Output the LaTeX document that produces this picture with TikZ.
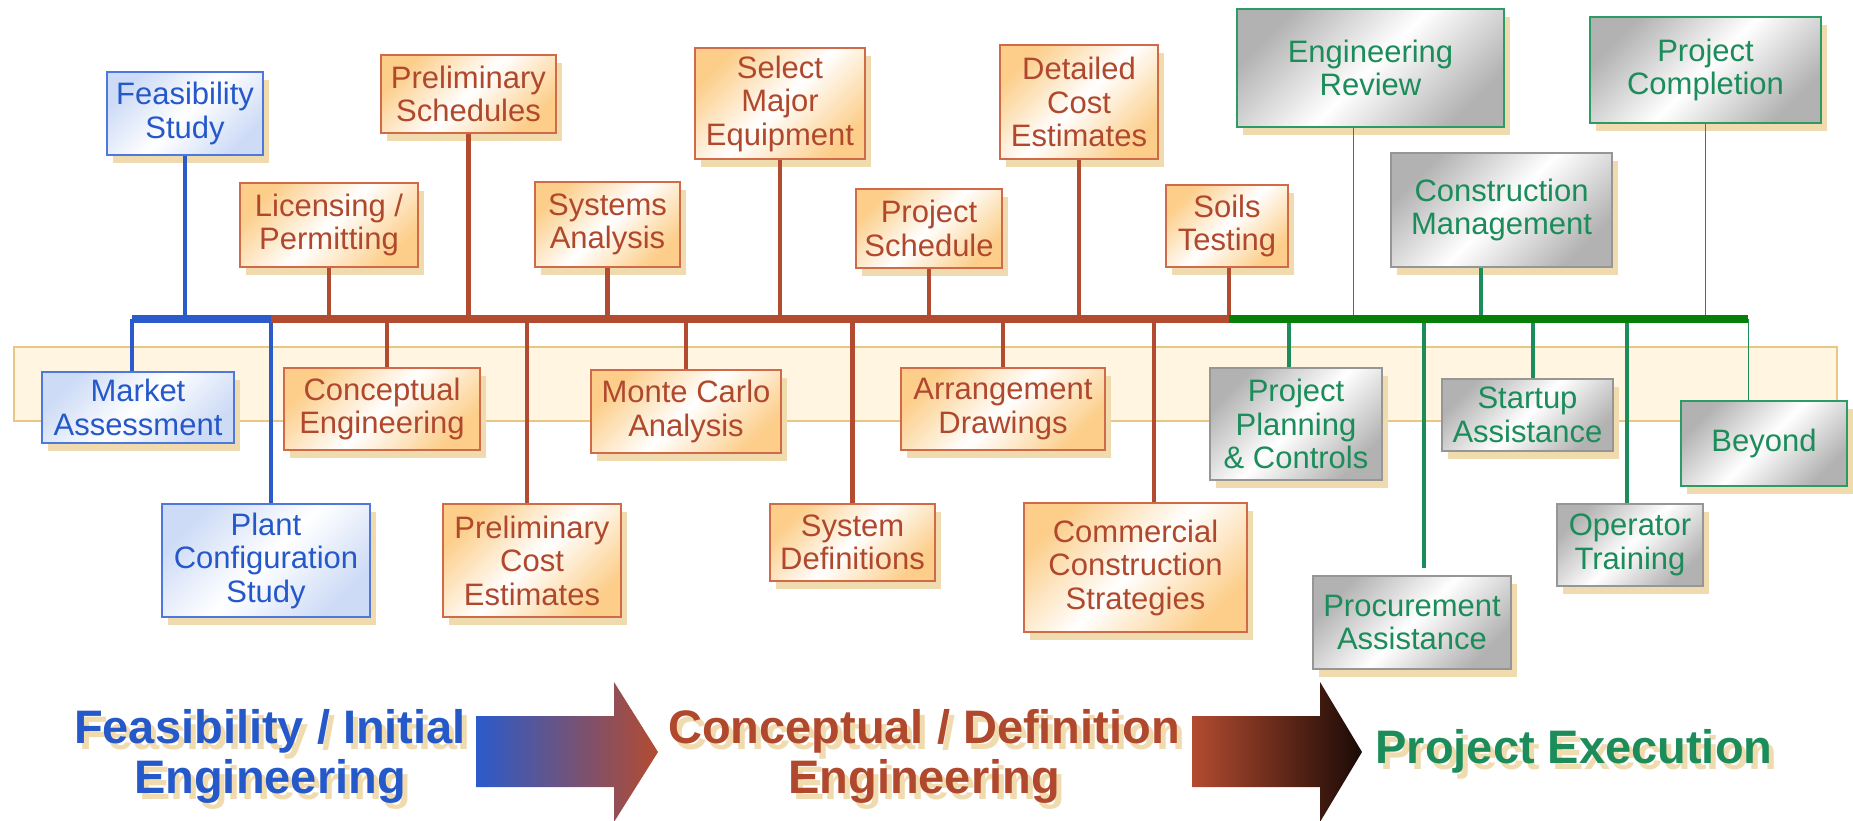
\documentclass[tikz,border=0pt]{standalone}
\usepackage{fontspec}
\setmainfont{Liberation Sans}
\usetikzlibrary{shadows, calc}

\definecolor{spineblue}{RGB}{43,91,203}
\definecolor{bluetext}{RGB}{37,88,201}
\definecolor{bluefill}{RGB}{205,219,246}
\definecolor{blueedge}{RGB}{78,120,220}
\definecolor{rust}{RGB}{179,75,48}
\definecolor{rusttext}{RGB}{176,72,46}
\definecolor{peach}{RGB}{252,206,138}
\definecolor{peachedge}{RGB}{208,106,72}
\definecolor{spinegreen}{RGB}{6,127,6}
\definecolor{tealgreen}{RGB}{27,140,90}
\definecolor{greyfill}{RGB}{178,178,178}
\definecolor{greyedge}{RGB}{150,150,150}
\definecolor{greenedge}{RGB}{46,154,102}
\definecolor{shadowtan}{RGB}{240,219,175}
\definecolor{bandfill}{RGB}{255,245,225}
\definecolor{bandedge}{RGB}{233,198,133}
\definecolor{darkend}{RGB}{26,10,5}

\begin{document}
\begin{tikzpicture}[
            x = 1pt, y = -1pt, % pixel grid, y runs down
            font = \fontsize{31}{33.5}\selectfont, % box text
            line cap = butt
        ]

        \tikzstyle{bluebox}=[
            draw = blueedge, line width = 1.6pt, text = bluetext,
            top color = bluefill, bottom color = bluefill, middle color = white,
            shading angle = 45,
            align = center, inner sep = 0pt,
            drop shadow = {shadow xshift = 5.5pt, shadow yshift = -8pt, fill = shadowtan, opacity = 1}
        ]
        \tikzstyle{orangebox}=[
            draw = peachedge, line width = 1.6pt, text = rusttext,
            top color = peach, bottom color = peach, middle color = white,
            shading angle = 45,
            align = center, inner sep = 0pt,
            drop shadow = {shadow xshift = 5.5pt, shadow yshift = -8pt, fill = shadowtan, opacity = 1}
        ]
        \tikzstyle{greybox}=[
            draw = greyedge, line width = 1.6pt, text = tealgreen,
            top color = greyfill, bottom color = greyfill, middle color = white,
            shading angle = 45,
            align = center, inner sep = 0pt,
            drop shadow = {shadow xshift = 5.5pt, shadow yshift = -8pt, fill = shadowtan, opacity = 1}
        ]
        \tikzstyle{greenbox}=[greybox, draw = greenedge]
        \tikzstyle{blueline}=[draw = spineblue, line width = 4.5pt]
        \tikzstyle{rustline}=[draw = rust, line width = 4.5pt]
        \tikzstyle{greenline}=[draw = tealgreen, line width = 4.5pt]
        \tikzstyle{thinline}=[draw = tealgreen, line width = 1pt]
        \tikzstyle{spine}=[line width = 7.5pt]
        \tikzstyle{title}=[
            font = \fontsize{47}{50}\selectfont\bfseries,
            align = center, inner sep = 0pt
        ]

        \useasboundingbox (0,0) rectangle (1853,820);

        % band behind the lower boxes
        \draw[draw = bandedge, fill = bandfill, line width = 2pt] (14,347) rectangle (1837,421);

        % feasibility / initial engineering
        \node[bluebox, minimum width = 156pt, minimum height = 83pt] (feas) at (185,113.5) {Feasibility\\Study};
        \node[bluebox, minimum width = 192pt, minimum height = 71pt] (market) at (138,407.5) {Market\\Assessment};
        \node[bluebox, minimum width = 208pt, minimum height = 113pt] (plant) at (266,560.5) {Plant\\Configuration\\Study};

        % conceptual / definition engineering
        \node[orangebox, minimum width = 178pt, minimum height = 84pt] (lic) at (329,225) {Licensing /\\Permitting};
        \node[orangebox, minimum width = 175pt, minimum height = 78pt] (psched) at (468.5,94) {Preliminary\\Schedules};
        \node[orangebox, minimum width = 145pt, minimum height = 85pt] (sysan) at (607.5,224.5) {Systems\\Analysis};
        \node[orangebox, minimum width = 170pt, minimum height = 111pt] (sme) at (780,103.5) {Select\\Major\\Equipment};
        \node[orangebox, minimum width = 146pt, minimum height = 79pt] (psch) at (929,228.5) {Project\\Schedule};
        \node[orangebox, minimum width = 158pt, minimum height = 114pt] (dce) at (1079,102) {Detailed\\Cost\\Estimates};
        \node[orangebox, minimum width = 122pt, minimum height = 82pt] (soils) at (1227,226) {Soils\\Testing};
        \node[orangebox, minimum width = 196pt, minimum height = 82pt] (concept) at (382,409) {Conceptual\\Engineering};
        \node[orangebox, minimum width = 178pt, minimum height = 113pt] (pce) at (532,560.5) {Preliminary\\Cost\\Estimates};
        \node[orangebox, minimum width = 190pt, minimum height = 83pt] (monte) at (686,411.5) {Monte Carlo\\Analysis};
        \node[orangebox, minimum width = 165pt, minimum height = 77pt] (sysdef) at (852.5,542.5) {System\\Definitions};
        \node[orangebox, minimum width = 204pt, minimum height = 82pt] (arr) at (1003,409) {Arrangement\\Drawings};
        \node[orangebox, minimum width = 223pt, minimum height = 129pt] (ccs) at (1135.5,567.5) {Commercial\\Construction\\Strategies};

        % project execution
        \node[greenbox, minimum width = 267pt, minimum height = 118pt] (engrev) at (1370.5,68) {Engineering\\Review};
        \node[greenbox, minimum width = 231pt, minimum height = 106pt] (pcomp) at (1705.5,70) {Project\\Completion};
        \node[greybox, minimum width = 221pt, minimum height = 114pt] (cm) at (1501.5,210) {Construction\\Management};
        \node[greybox, minimum width = 172pt, minimum height = 112pt] (ppc) at (1296,424) {Project\\Planning\\\& Controls};
        \node[greybox, minimum width = 198pt, minimum height = 93pt] (proc) at (1412,622.5) {Procurement\\Assistance};
        \node[greybox, minimum width = 171pt, minimum height = 72pt] (startup) at (1527.5,415) {Startup\\Assistance};
        \node[greybox, minimum width = 146pt, minimum height = 82pt] (optr) at (1630,545) {Operator\\Training};
        \node[greenbox, minimum width = 166pt, minimum height = 85pt] (beyond) at (1764,443.5) {Beyond};

        % spine points
        \coordinate (bluestart) at (132,319);
        \coordinate (ruststart) at (271,319);
        \coordinate (greenstart) at (1229,319);
        \coordinate (greenend) at (1748,319);

        % blue drops
        \draw[blueline] (feas.south) -- (feas.south |- bluestart);
        \draw[blueline] (market.north -| bluestart) -- (bluestart);
        \draw[blueline] (plant.north -| ruststart) -- (ruststart);

        % rust drops
        \draw[rustline] (lic.south) -- (lic.south |- ruststart);
        \draw[rustline] (psched.south) -- (psched.south |- ruststart);
        \draw[rustline] (sysan.south) -- (sysan.south |- ruststart);
        \draw[rustline] (sme.south) -- (sme.south |- ruststart);
        \draw[rustline] (psch.south) -- (psch.south |- ruststart);
        \draw[rustline] (dce.south) -- (dce.south |- ruststart);
        \draw[rustline] (soils.south -| greenstart) -- (greenstart);
        \draw[rustline] ($(concept.north)+(5,0)$) -- ($(concept.north |- ruststart)+(5,0)$);
        \draw[rustline] ($(pce.north)+(-5,0)$) -- ($(pce.north |- ruststart)+(-5,0)$);
        \draw[rustline] (monte.north) -- (monte.north |- ruststart);
        \draw[rustline] (sysdef.north) -- (sysdef.north |- ruststart);
        \draw[rustline] (arr.north) -- (arr.north |- ruststart);
        \draw[rustline] ($(ccs.north)+(18.5,0)$) -- ($(ccs.north |- ruststart)+(18.5,0)$);

        % green drops
        \draw[thinline] ($(engrev.south)+(-17.5,0)$) -- ($(engrev.south |- greenstart)+(-17.5,0)$);
        \draw[thinline] (pcomp.south) -- (pcomp.south |- greenstart);
        \draw[greenline] ($(cm.south)+(-20.5,0)$) -- ($(cm.south |- greenstart)+(-20.5,0)$);
        \draw[greenline] ($(ppc.north)+(-7,0)$) -- ($(ppc.north |- greenstart)+(-7,0)$);
        \draw[greenline] ($(proc.north |- greenstart)+(12,0)$) -- ($(proc.north)+(12,-7)$);
        \draw[greenline] ($(startup.north)+(5.5,0)$) -- ($(startup.north |- greenstart)+(5.5,0)$);
        \draw[greenline] ($(optr.north)+(-3,0)$) -- ($(optr.north |- greenstart)+(-3,0)$);
        \draw[thinline] (beyond.north -| greenend) -- (greenend);

        % spine
        \draw[blueline, spine] (bluestart) -- (ruststart);
        \draw[rustline, spine] (ruststart) -- (greenstart);
        \draw[draw = spinegreen, spine] (greenstart) -- (greenend);

        % phase arrows
        \shade[left color = spineblue, right color = rust]
            (476,716) -- (614,716) -- (614,682) -- (658,752) -- (614,822) -- (614,787) -- (476,787) -- cycle;
        \shade[left color = rust, right color = darkend]
            (1192,716) -- (1320,716) -- (1320,682) -- (1362,752) -- (1320,822) -- (1320,787) -- (1192,787) -- cycle;

        % phase titles
        \node[title, text = shadowtan] (feastitleshadow) at (275,762) {Feasibility / Initial\\Engineering};
        \node[title, text = bluetext] (feastitle) at (270,756) {Feasibility / Initial\\Engineering};
        \node[title, text = shadowtan] (concepttitleshadow) at (929,762) {Conceptual / Definition\\Engineering};
        \node[title, text = rusttext] (concepttitle) at (924,756) {Conceptual / Definition\\Engineering};
        \node[title, text = shadowtan] (exectitleshadow) at (1579,757) {Project Execution};
        \node[title, text = tealgreen] (exectitle) at (1574,751) {Project Execution};

  \end{tikzpicture}
\end{document}
